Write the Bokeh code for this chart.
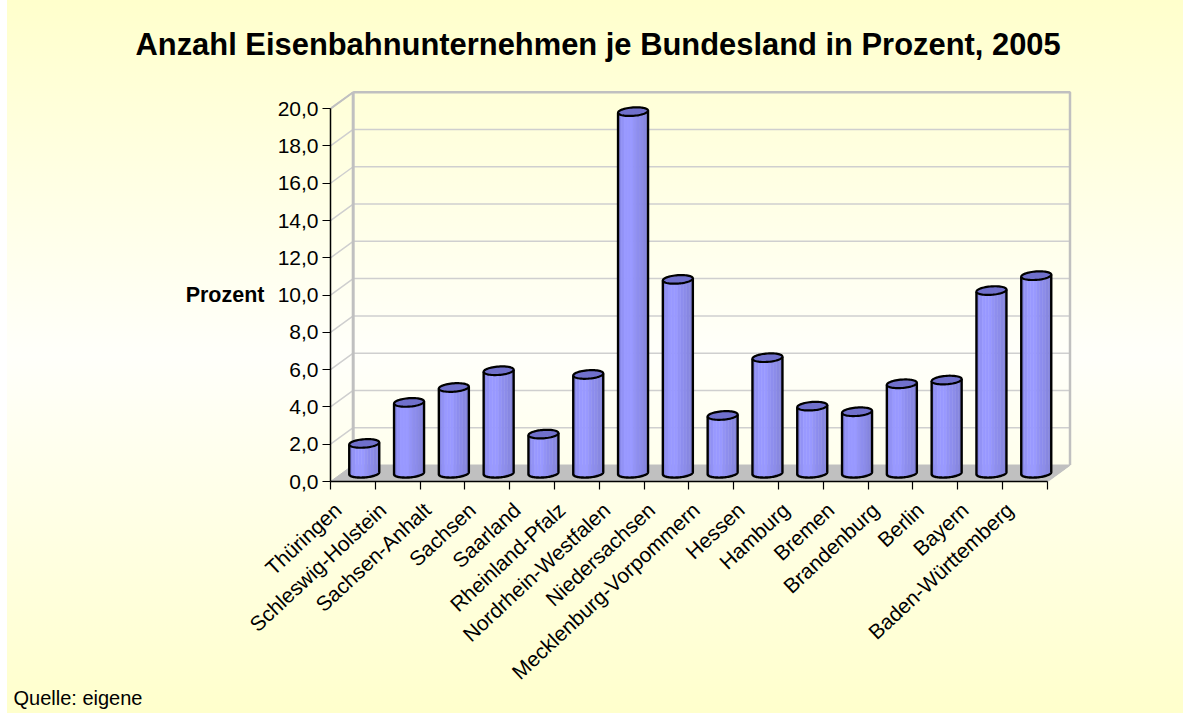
import numpy as np
from bokeh.embed import file_html
from bokeh.resources import INLINE
from bokeh.plotting import figure
from bokeh.models import FixedTicker, LinearAxis, Title, Range1d

TITLE = "Anzahl Eisenbahnunternehmen je Bundesland in Prozent, 2005"
CATEGORIES = ["Thüringen", "Schleswig-Holstein", "Sachsen-Anhalt", "Sachsen", "Saarland",
              "Rheinland-Pfalz", "Nordrhein-Westfalen", "Niedersachsen",
              "Mecklenburg-Vorpommern", "Hessen", "Hamburg", "Bremen", "Brandenburg",
              "Berlin", "Bayern", "Baden-Württemberg"]
PERCENT = [1.6, 3.8, 4.6, 5.5, 2.1, 5.3, 19.4, 10.4, 3.1, 6.2, 3.6, 3.3, 4.8, 5.0, 9.8, 10.6]
Y_TICKS = [0, 2, 4, 6, 8, 10, 12, 14, 16, 18, 20]
Y_LABELS = ["0,0", "2,0", "4,0", "6,0", "8,0", "10,0", "12,0", "14,0", "16,0", "18,0", "20,0"]
GRID_VALUES = [2, 4, 6, 8, 10, 12, 14, 16, 18, 20]
STRIPES = ["#8888E8", "#9292F6", "#9999FF", "#9999FF", "#9999FF", "#9393F6",
           "#8E8EEE", "#8C8CEA", "#8888E2", "#8585DC"]
FONT = "Liberation Sans"

# geometry of the page (pixels)
W, H = 1176, 713
PAGE_X = 7
LEFT, RIGHT, TOP, BOTTOM = 330, 1075, 90, 481
X_PER = 44.8      # px per category
Y_PER = 18.64     # px per percent
DEPTH_X, DEPTH_Y = 22.7, 16.5
BAR_A, BAR_B, BAR_SHEAR = 15.0, 4.2, 0.07
LABEL_SHIFT = 15  # px the slanted labels sit left of the category centre

dx = DEPTH_X / X_PER
dy = DEPTH_Y / Y_PER
n = len(CATEGORIES)

p = figure(width=W, height=H, output_backend="svg", toolbar_location=None,
           x_range=Range1d(0, (RIGHT - LEFT) / X_PER),
           y_range=Range1d(0, (BOTTOM - TOP) / Y_PER),
           min_border_left=LEFT - PAGE_X, min_border_right=W + PAGE_X - RIGHT,
           min_border_top=TOP, min_border_bottom=H - BOTTOM,
           background_fill_alpha=0, border_fill_alpha=0, outline_line_alpha=0)
p.styles = {"position": "fixed", "left": f"{PAGE_X}px", "top": "0px",
            "background": "linear-gradient(#FFFFCC 0%, #FFFFFA 50%, #FFFFCC 100%)"}
p.grid.visible = False

p.title = Title(text=TITLE, align="left", offset=135 - LEFT, standoff=53, vertical_align="top",
                text_font=FONT, text_font_size="30.9px", text_font_style="bold", text_color="black")

# floor
p.patch([0, dx, n + dx, n], [0, dy, dy, 0], fill_color="#C0C0C0", line_color="#C0C0C0", line_width=1)
# grid lines: side wall + back wall
p.multi_line([[0, dx, n + dx] for _ in GRID_VALUES],
             [[v, v + dy, v + dy] for v in GRID_VALUES], line_color="#CFCFCF", line_width=1.5)
# wall edges
p.line([dx, dx], [dy, 20 + dy], line_color="#C0C0C0", line_width=3)
p.line([dx, n + dx, n + dx], [20 + dy, 20 + dy, dy], line_color="#C0C0C0", line_width=2.5)
p.line([0, dx], [20, 20 + dy], line_color="#C0C0C0", line_width=2)
p.line([n, n + dx], [0, dy], line_color="#C0C0C0", line_width=1.5)

# cylinders
sx = 1 / X_PER
sy = 1 / Y_PER
us = np.linspace(-1, 1, len(STRIPES) + 1)
body_xs, body_ys, body_cols = [], [], []
out_xs, out_ys, top_xs, top_ys = [], [], [], []
for i, v in enumerate(PERCENT):
    cx = i + 0.5 + dx / 2
    base = dy / 2
    top = base + v
    for j, col in enumerate(STRIPES):
        u = np.linspace(us[j], us[j + 1], 6)
        bx = cx + u * BAR_A * sx
        by = base - (BAR_B * np.sqrt(np.clip(1 - u ** 2, 0, 1)) - BAR_SHEAR * BAR_A * u) * sy
        ty = top + BAR_SHEAR * BAR_A * u * sy
        body_xs.append(list(bx) + list(bx[::-1]))
        body_ys.append(list(by) + list(ty[::-1]))
        body_cols.append(col)
    u = np.sin(np.linspace(-np.pi / 2, np.pi / 2, 41))
    bx = cx + u * BAR_A * sx
    by = base - (BAR_B * np.sqrt(np.clip(1 - u ** 2, 0, 1)) - BAR_SHEAR * BAR_A * u) * sy
    out_xs.append([bx[0]] + list(bx) + [bx[-1]])
    out_ys.append([top + BAR_SHEAR * BAR_A * u[0] * sy] + list(by) + [top + BAR_SHEAR * BAR_A * u[-1] * sy])
    t = np.linspace(0, 2 * np.pi, 61)
    top_xs.append(list(cx + np.cos(t) * BAR_A * sx))
    top_ys.append(list(top + (BAR_B * np.sin(t) + BAR_SHEAR * BAR_A * np.cos(t)) * sy))

p.patches(body_xs, body_ys, fill_color=body_cols, line_color=body_cols, line_width=0.5)
p.multi_line(out_xs, out_ys, line_color="black", line_width=2.4, line_join="round")
p.patches(top_xs, top_ys, fill_color="#7070CC", line_color="black", line_width=2.2, line_join="round")

# axes
xa = p.xaxis[0]
shift = LABEL_SHIFT / X_PER
xa.ticker = FixedTicker(ticks=[i + 0.5 - shift for i in range(n)], minor_ticks=list(range(n + 1)))
xa.major_label_overrides = {i + 0.5 - shift: c for i, c in enumerate(CATEGORIES)}
xa.major_label_orientation = 0.75
xa.major_label_text_font = FONT
xa.major_label_text_font_size = "21px"
xa.major_label_text_color = "black"
xa.major_label_standoff = 17
xa.major_tick_in = 0
xa.major_tick_out = 0
xa.minor_tick_in = 0
xa.minor_tick_out = 8
xa.minor_tick_line_color = "black"
xa.minor_tick_line_width = 1.2
xa.axis_line_color = "black"
xa.axis_line_width = 1.5
xa.bounds = (0, n)

ya = p.yaxis[0]
ya.ticker = FixedTicker(ticks=Y_TICKS)
ya.major_label_overrides = dict(zip(Y_TICKS, Y_LABELS))
ya.major_label_text_font = FONT
ya.major_label_text_font_size = "21px"
ya.major_label_text_color = "black"
ya.major_label_standoff = 4
ya.major_tick_in = 0
ya.major_tick_out = 8
ya.minor_tick_line_color = None
ya.major_tick_line_color = "black"
ya.major_tick_line_width = 1.2
ya.axis_line_color = "black"
ya.axis_line_width = 1.5
ya.bounds = (0, 20)

# "Prozent" sits beside the 10,0 tick: a label-only axis next to the value axis
name_axis = LinearAxis(ticker=FixedTicker(ticks=[10]), major_label_overrides={10: "Prozent"},
                       major_label_text_font=FONT, major_label_text_font_size="21.5px",
                       major_label_text_font_style="bold", major_label_text_color="black",
                       major_label_standoff=10, major_tick_in=0, major_tick_out=0,
                       minor_tick_line_color=None, major_tick_line_color=None, axis_line_color=None)
p.add_layout(name_axis, "left")

p.add_layout(Title(text="Quelle: eigene", align="left", offset=13 - LEFT, standoff=-28,
                   text_font=FONT, text_font_size="20px", text_font_style="normal",
                   text_color="black"), "below")

open("out.html", "w").write(file_html(p, INLINE))
